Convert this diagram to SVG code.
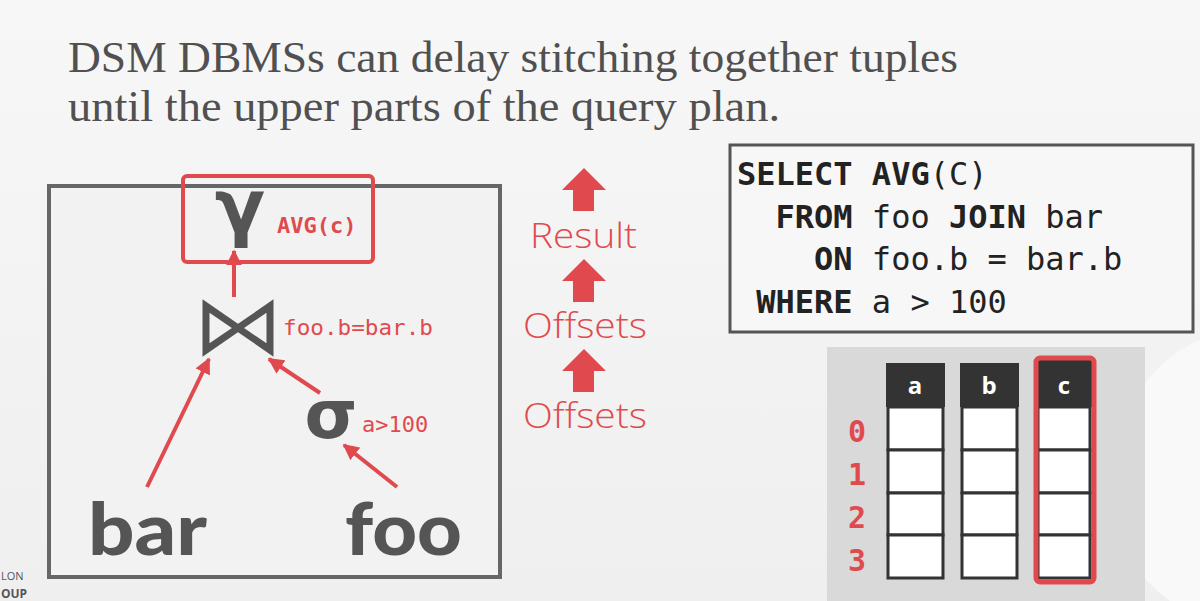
<svg xmlns="http://www.w3.org/2000/svg" width="1200" height="601" viewBox="0 0 1200 601">
<defs>
<marker id="ah" viewBox="0 0 10 10" refX="9" refY="5" markerWidth="4" markerHeight="4" orient="auto" markerUnits="strokeWidth">
<path d="M0,0 L10,5 L0,10 Z" fill="#e04a4e"/>
</marker>
<linearGradient id="bg" x1="0" y1="0" x2="0" y2="1">
<stop offset="0" stop-color="#f7f7f7"/>
<stop offset="1" stop-color="#efefef"/>
</linearGradient>
</defs>
<style>
.title{font-family:"Liberation Serif",serif;font-size:44px;fill:#505050}
.op{font-family:"DejaVu Sans",sans-serif;font-weight:bold;fill:#555}
.red{fill:#e04a4e}
.lbl{font-family:"DejaVu Sans Mono","Liberation Mono",monospace;font-size:22px;fill:#e04a4e}
.tbl{font-family:"Lato","DejaVu Sans",sans-serif;font-weight:900;font-size:72px;fill:#555}
.flow{font-family:"Open Sans","DejaVu Sans",sans-serif;font-weight:300;font-size:35px;fill:#e04a4e}
.sql{font-family:"DejaVu Sans Mono","Liberation Mono",monospace;font-size:32px;fill:#222}
.b{font-weight:bold}
.conn{stroke:#e04a4e;stroke-width:4;fill:none;marker-end:url(#ah)}
.cell{fill:#fff;stroke:#333;stroke-width:3}
.hdr{fill:#333}
.hl{font-family:"Open Sans","DejaVu Sans",sans-serif;font-weight:bold;font-size:24px;fill:#fff;text-anchor:middle}
.rn{font-family:"DejaVu Sans Mono","Liberation Mono",monospace;font-weight:bold;font-size:30px;fill:#e04a4e;text-anchor:middle}
.logo{font-family:"Open Sans","DejaVu Sans",sans-serif;fill:#555}
</style>
<rect width="1200" height="601" fill="url(#bg)"/>
<path d="M1200,340 C1150,360 1110,420 1110,480 C1110,540 1140,580 1170,601 L1200,601 Z" fill="#f9f9f9"/>

<g id="title">
<text class="title" x="68" y="72" textLength="890" lengthAdjust="spacingAndGlyphs">DSM DBMSs can delay stitching together tuples</text>
<text class="title" x="68" y="121" textLength="712" lengthAdjust="spacingAndGlyphs">until the upper parts of the query plan.</text>
</g>

<g id="plan-box">
<rect x="49" y="186" width="451" height="391" fill="#f2f2f2" stroke="#666" stroke-width="4"/>
</g>

<g id="aggregate">
<rect x="183" y="176" width="190" height="86" rx="4" fill="none" stroke="#e04a4e" stroke-width="4"/>
<text class="op" x="240" y="232" font-size="74" text-anchor="middle">γ</text>
<text class="lbl b" x="277" y="233">AVG(c)</text>
</g>

<g id="join">
<path d="M206,306 L206,350 L270,306 L270,350 Z" fill="none" stroke="#555" stroke-width="7" stroke-linejoin="miter"/>
<text class="lbl" x="283" y="335" textLength="150" lengthAdjust="spacingAndGlyphs">foo.b=bar.b</text>
</g>

<g id="select">
<text class="op" x="331" y="438" font-size="68" text-anchor="middle">σ</text>
<text class="lbl" x="362" y="432">a&gt;100</text>
</g>

<g id="bar">
<text class="tbl" x="88" y="555" textLength="119" lengthAdjust="spacingAndGlyphs">bar</text>
</g>
<g id="foo">
<text class="tbl" x="345" y="555" textLength="117" lengthAdjust="spacingAndGlyphs">foo</text>
</g>

<g id="connectors">
<line class="conn" x1="234" y1="297" x2="234" y2="251"/>
<line class="conn" x1="147" y1="487" x2="209" y2="359"/>
<line class="conn" x1="320" y1="393" x2="269" y2="359"/>
<line class="conn" x1="397" y1="487" x2="344" y2="445"/>
</g>

<g id="flow">
<path class="red" d="M584,168 L606,190 L594,190 L594,211 L573,211 L573,190 L562,190 Z"/>
<text class="flow" x="530" y="248" textLength="107" lengthAdjust="spacingAndGlyphs">Result</text>
<path class="red" d="M584,259 L606,281 L594,281 L594,302 L573,302 L573,281 L562,281 Z"/>
<text class="flow" x="523" y="338" textLength="124" lengthAdjust="spacingAndGlyphs">Offsets</text>
<path class="red" d="M584,349 L606,371 L594,371 L594,392 L573,392 L573,371 L562,371 Z"/>
<text class="flow" x="523" y="428" textLength="124" lengthAdjust="spacingAndGlyphs">Offsets</text>
</g>

<g id="sql">
<rect x="730" y="145" width="463" height="187" fill="#f7f7f7" stroke="#555" stroke-width="3"/>
<text class="sql" x="737" y="185" xml:space="preserve"><tspan class="b">SELECT</tspan> <tspan class="b">AVG</tspan>(C)</text>
<text class="sql" x="737" y="228" xml:space="preserve">  <tspan class="b">FROM</tspan> foo <tspan class="b">JOIN</tspan> bar</text>
<text class="sql" x="737" y="270" xml:space="preserve">    <tspan class="b">ON</tspan> foo.b = bar.b</text>
<text class="sql" x="737" y="313" xml:space="preserve"> <tspan class="b">WHERE</tspan> a &gt; 100</text>
</g>

<g id="columns">
<rect x="827" y="347" width="318" height="254" fill="#d9d9d9"/>
<g id="col-a">
<rect class="hdr" x="886" y="363" width="59" height="44"/>
<text class="hl" x="915" y="394">a</text>
<rect class="cell" x="888" y="407" width="55" height="43"/>
<rect class="cell" x="888" y="450" width="55" height="43"/>
<rect class="cell" x="888" y="493" width="55" height="42"/>
<rect class="cell" x="888" y="535" width="55" height="43"/>
</g>
<g id="col-b">
<rect class="hdr" x="960" y="363" width="59" height="44"/>
<text class="hl" x="989" y="394">b</text>
<rect class="cell" x="962" y="407" width="55" height="43"/>
<rect class="cell" x="962" y="450" width="55" height="43"/>
<rect class="cell" x="962" y="493" width="55" height="42"/>
<rect class="cell" x="962" y="535" width="55" height="43"/>
</g>
<g id="col-c">
<rect class="hdr" x="1037" y="360" width="55" height="47"/>
<text class="hl" x="1064" y="394">c</text>
<rect class="cell" x="1038" y="407" width="52" height="43"/>
<rect class="cell" x="1038" y="450" width="52" height="43"/>
<rect class="cell" x="1038" y="493" width="52" height="42"/>
<rect class="cell" x="1038" y="535" width="52" height="43"/>
<rect x="1036" y="358" width="58" height="224" rx="4" fill="none" stroke="#e04a4e" stroke-width="5"/>
</g>
<g id="row-numbers">
<text class="rn" x="857" y="442">0</text>
<text class="rn" x="857" y="485">1</text>
<text class="rn" x="857" y="528">2</text>
<text class="rn" x="857" y="571">3</text>
</g>
</g>

<g id="logo">
<text class="logo" x="1" y="580" font-size="11">LON</text>
<text class="logo" x="1" y="598" font-size="12" font-weight="bold">OUP</text>
</g>
</svg>
